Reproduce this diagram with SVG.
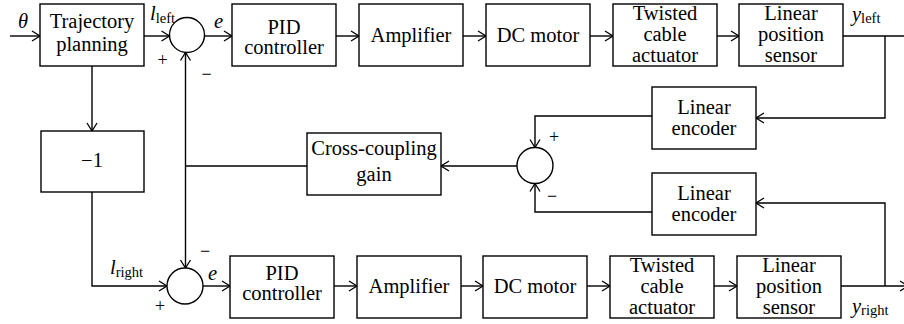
<svg xmlns="http://www.w3.org/2000/svg" width="904" height="324" viewBox="0 0 904 324" font-family="'Liberation Serif', 'DejaVu Serif', serif">
<style>
.b{fill:#fff;stroke:#000;stroke-width:1.4}
.c{fill:#fff;stroke:#000;stroke-width:1.4}
.w{fill:none;stroke:#000;stroke-width:1.4}
.a{marker-end:url(#ar)}
text{font-family:'Liberation Serif', 'DejaVu Serif', serif;font-size:20.5px;fill:#000}
.m{text-anchor:middle}
.i{font-style:italic}
.s{font-size:14.5px}
.g{font-size:18px;text-anchor:middle}
</style>
<defs>
<marker id="ar" markerUnits="userSpaceOnUse" markerWidth="12" markerHeight="12" refX="9" refY="5" orient="auto" overflow="visible">
<path d="M1,0 L9,5 L1,10" fill="none" stroke="#000" stroke-width="1.3"/>
</marker>
</defs>
<g id="connectors">
<path class="w a" d="M10,36 H40"/>
<path class="w a" d="M144,36 H169.5"/>
<path class="w a" d="M204.5,36 H232"/>
<path class="w a" d="M336,36 H359"/>
<path class="w a" d="M463,36 H486"/>
<path class="w a" d="M590,36 H613"/>
<path class="w a" d="M717,36 H739"/>
<path class="w" d="M843,36 H904"/>
<path class="w a" d="M885,36 V118 H756"/>
<path class="w a" d="M652,116 H535 V147.5"/>
<path class="w a" d="M885,286 V203 H756"/>
<path class="w a" d="M652,212 H535 V183.5"/>
<path class="w a" d="M517,166 H441"/>
<path class="w" d="M307,166 H185.5"/>
<path class="w a" d="M185.5,166 V52.5"/>
<path class="w a" d="M185.5,166 V268"/>
<path class="w a" d="M92,66 V131"/>
<path class="w a" d="M92,192 V286 H167"/>
<path class="w a" d="M203,286 H230"/>
<path class="w a" d="M334,286 H357"/>
<path class="w a" d="M461,286 H483"/>
<path class="w a" d="M587,286 H610"/>
<path class="w a" d="M714,286 H737"/>
<path class="w a" d="M841,286 H908"/>
</g>
<g id="labels">
<text class="i" x="18" y="28">θ</text>
<text x="150" y="20"><tspan class="i">l</tspan><tspan class="s" dy="3">left</tspan></text>
<text class="i" x="214" y="28">e</text>
<text class="g" x="162.7" y="66">+</text>
<text class="g" x="206.7" y="80">−</text>
<text x="110" y="274"><tspan class="i">l</tspan><tspan class="s" dy="3">right</tspan></text>
<text class="i" x="208" y="280">e</text>
<text class="g" x="205" y="257">−</text>
<text class="g" x="160" y="312">+</text>
<text class="g" x="554" y="143">+</text>
<text class="g" x="552" y="202">−</text>
<text x="852" y="21"><tspan class="i">y</tspan><tspan class="s" dy="2">left</tspan></text>
<text x="852" y="313"><tspan class="i">y</tspan><tspan class="s" dy="2">right</tspan></text>
</g>
<g id="sum-top"><circle class="c" cx="187" cy="35" r="17.5"/></g>
<g id="sum-bottom"><circle class="c" cx="185" cy="286" r="18"/></g>
<g id="sum-middle"><circle class="c" cx="535" cy="165.5" r="18"/></g>
<g id="trajectory"><rect class="b" x="40" y="4" width="104" height="62"/><text class="m" x="92" y="28">Trajectory</text><text class="m" x="92" y="51">planning</text></g>
<g id="neg1"><rect class="b" x="41" y="131" width="103" height="61"/><text class="m" x="92" y="167">−1</text></g>
<g id="pid-top"><rect class="b" x="232" y="4" width="104" height="62"/><text class="m" x="284" y="34">PID</text><text class="m" x="284" y="54">controller</text></g>
<g id="amp-top"><rect class="b" x="359" y="4" width="104" height="62"/><text class="m" x="411" y="42">Amplifier</text></g>
<g id="dc-top"><rect class="b" x="486" y="4" width="104" height="62"/><text class="m" x="538" y="42">DC motor</text></g>
<g id="tca-top"><rect class="b" x="613" y="4" width="104" height="62"/><text class="m" x="665" y="20">Twisted</text><text class="m" x="665" y="41">cable</text><text class="m" x="665" y="62">actuator</text></g>
<g id="lps-top"><rect class="b" x="739" y="4" width="104" height="62"/><text class="m" x="791" y="20">Linear</text><text class="m" x="791" y="41">position</text><text class="m" x="791" y="62">sensor</text></g>
<g id="enc-top"><rect class="b" x="652" y="87" width="104" height="62"/><text class="m" x="704" y="114">Linear</text><text class="m" x="704" y="135">encoder</text></g>
<g id="ccg"><rect class="b" x="307" y="133" width="134" height="62"/><text class="m" x="374" y="155">Cross-coupling</text><text class="m" x="374" y="181">gain</text></g>
<g id="enc-bottom"><rect class="b" x="652" y="173" width="104" height="62"/><text class="m" x="704" y="200">Linear</text><text class="m" x="704" y="221">encoder</text></g>
<g id="pid-bottom"><rect class="b" x="230" y="256" width="104" height="62"/><text class="m" x="282" y="280">PID</text><text class="m" x="282" y="300">controller</text></g>
<g id="amp-bottom"><rect class="b" x="357" y="256" width="104" height="62"/><text class="m" x="409" y="293">Amplifier</text></g>
<g id="dc-bottom"><rect class="b" x="483" y="256" width="104" height="62"/><text class="m" x="535" y="293">DC motor</text></g>
<g id="tca-bottom"><rect class="b" x="610" y="256" width="104" height="62"/><text class="m" x="662" y="272">Twisted</text><text class="m" x="662" y="293">cable</text><text class="m" x="662" y="314">actuator</text></g>
<g id="lps-bottom"><rect class="b" x="737" y="256" width="104" height="62"/><text class="m" x="789" y="272">Linear</text><text class="m" x="789" y="293">position</text><text class="m" x="789" y="314">sensor</text></g>
</svg>
